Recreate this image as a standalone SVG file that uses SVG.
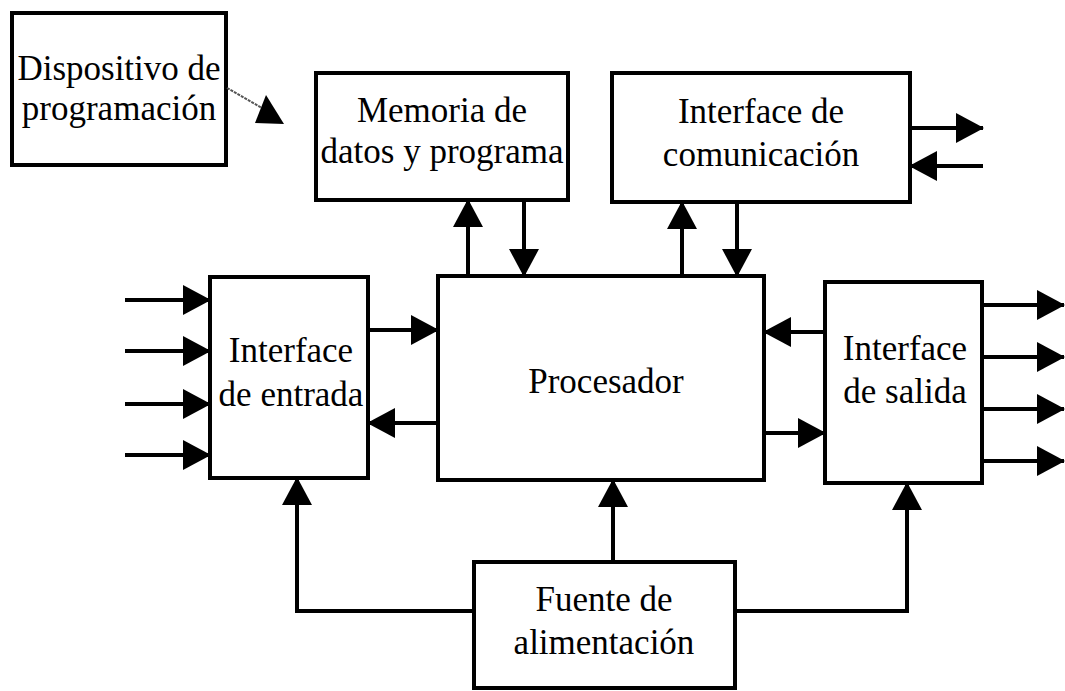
<svg xmlns="http://www.w3.org/2000/svg" width="1065" height="691" viewBox="0 0 1065 691">
  <style>
    .box { fill: #fff; stroke: #000; stroke-width: 4; }
    .lbl { font-family: "Liberation Serif", "Times New Roman", serif; font-size: 35px; fill: #000; text-anchor: middle; }
    .wire { fill: none; stroke: #000; stroke-width: 4; }
    .arr { fill: none; stroke: #000; stroke-width: 4; marker-end: url(#ah); }
  </style>
  <defs>
    <marker id="ah" markerUnits="userSpaceOnUse" markerWidth="28" markerHeight="30" refX="27" refY="15" orient="auto" viewBox="0 0 28 30">
      <path d="M0,0 L28,15 L0,30 z" fill="#000"/>
    </marker>
  </defs>
  <rect width="1065" height="691" fill="#fff"/>

  <g id="dispositivo">
    <rect class="box" x="12" y="13" width="214" height="152"/>
    <text class="lbl" x="119" y="80">Dispositivo de</text>
    <text class="lbl" x="119" y="120">programación</text>
  </g>

  <g id="memoria">
    <rect class="box" x="316" y="73" width="252" height="127"/>
    <text class="lbl" x="442" y="122">Memoria de</text>
    <text class="lbl" x="442" y="163">datos y programa</text>
  </g>

  <g id="comunicacion">
    <rect class="box" x="612" y="73" width="298" height="129"/>
    <text class="lbl" x="761" y="123">Interface de</text>
    <text class="lbl" x="761" y="166">comunicación</text>
  </g>

  <g id="entrada">
    <rect class="box" x="210" y="277" width="158" height="201"/>
    <text class="lbl" x="291" y="362">Interface</text>
    <text class="lbl" x="291" y="406">de entrada</text>
  </g>

  <g id="procesador">
    <rect class="box" x="438" y="276" width="326" height="204"/>
    <text class="lbl" x="606" y="393">Procesador</text>
  </g>

  <g id="salida">
    <rect class="box" x="825" y="282" width="157" height="201"/>
    <text class="lbl" x="905" y="360">Interface</text>
    <text class="lbl" x="905" y="403">de salida</text>
  </g>

  <g id="fuente">
    <rect class="box" x="474" y="562" width="261" height="126"/>
    <text class="lbl" x="604" y="611">Fuente de</text>
    <text class="lbl" x="604" y="654">alimentación</text>
  </g>

  <g id="connectors">
    <!-- programming device link -->
    <line x1="227" y1="88" x2="262" y2="108" stroke="#555" stroke-width="2" stroke-dasharray="3,1"/>
    <polygon points="266,95 255,123 284,124" fill="#000"/>

    <!-- memory <-> processor -->
    <line class="arr" x1="468" y1="276" x2="468" y2="200"/>
    <line class="arr" x1="524" y1="200" x2="524" y2="276"/>

    <!-- communication <-> processor -->
    <line class="arr" x1="682" y1="276" x2="682" y2="202"/>
    <line class="arr" x1="737" y1="202" x2="737" y2="276"/>

    <!-- communication external -->
    <line class="arr" x1="910" y1="128" x2="983" y2="128"/>
    <line class="arr" x1="983" y1="166" x2="910" y2="166"/>

    <!-- inputs -->
    <line class="arr" x1="125" y1="300" x2="210" y2="300"/>
    <line class="arr" x1="125" y1="351" x2="210" y2="351"/>
    <line class="arr" x1="125" y1="404" x2="210" y2="404"/>
    <line class="arr" x1="125" y1="455" x2="210" y2="455"/>

    <!-- input interface <-> processor -->
    <line class="arr" x1="368" y1="330" x2="438" y2="330"/>
    <line class="arr" x1="438" y1="423" x2="368" y2="423"/>

    <!-- processor <-> output interface -->
    <line class="arr" x1="825" y1="332" x2="764" y2="332"/>
    <line class="arr" x1="764" y1="433" x2="825" y2="433"/>

    <!-- outputs -->
    <line class="arr" x1="982" y1="305" x2="1064" y2="305"/>
    <line class="arr" x1="982" y1="357" x2="1064" y2="357"/>
    <line class="arr" x1="982" y1="409" x2="1064" y2="409"/>
    <line class="arr" x1="982" y1="461" x2="1064" y2="461"/>

    <!-- power supply -->
    <line class="arr" x1="613" y1="562" x2="613" y2="480"/>
    <polyline class="wire" points="474,611 297,611 297,520"/>
    <line class="arr" x1="297" y1="611" x2="297" y2="478"/>
    <polyline class="wire" points="735,611 907,611 907,520"/>
    <line class="arr" x1="907" y1="611" x2="907" y2="483"/>
  </g>
</svg>
